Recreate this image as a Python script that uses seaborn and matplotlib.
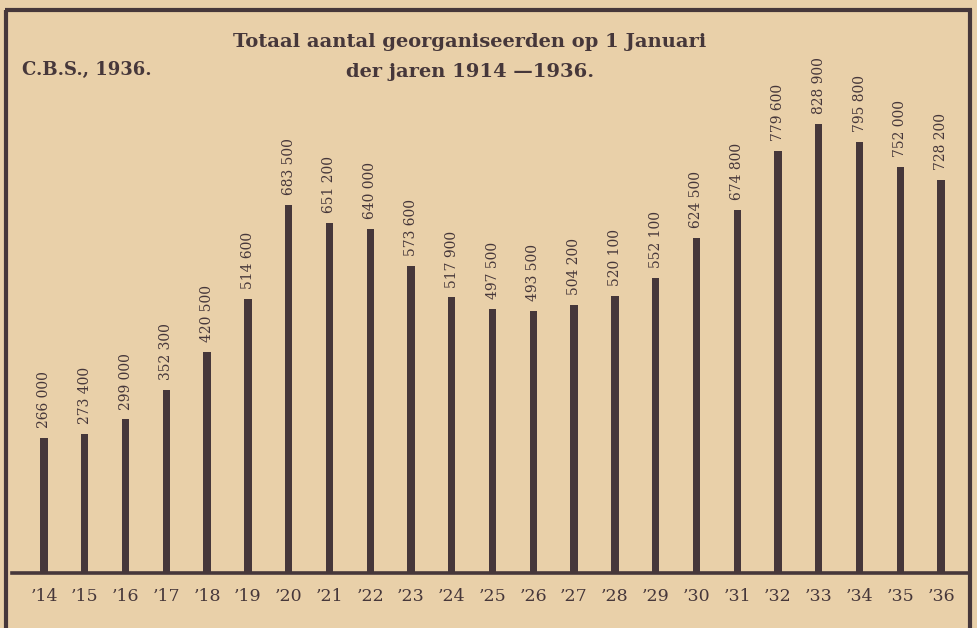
import matplotlib
matplotlib.use("Agg")
import matplotlib.pyplot as plt
from matplotlib.lines import Line2D
import seaborn as sns
import pandas as pd

years = ["’14", "’15", "’16", "’17", "’18", "’19", "’20", "’21", "’22", "’23", "’24", "’25",
         "’26", "’27", "’28", "’29", "’30", "’31", "’32", "’33", "’34", "’35", "’36"]
members = [266000, 273400, 299000, 352300, 420500, 514600, 683500, 651200, 640000, 573600,
           517900, 497500, 493500, 504200, 520100, 552100, 624500, 674800, 779600, 828900,
           795800, 752000, 728200]

title_lines = ["Totaal aantal georganiseerden op 1 Januari", "der jaren 1914 \u20141936."]
source = "C.B.S., 1936."

paper = "#e9d0a9"
ink = "#46373a"

sns.set_theme(style="white")
plt.rcParams["font.family"] = ["DejaVu Serif", "DejaVu Sans"]

df = pd.DataFrame({"year": years, "members": members})

fig = plt.figure(figsize=(9.77, 6.28), dpi=100, facecolor=paper)
W, H = 977, 628
ax = fig.add_axes([12 / W, (H - 573) / H, (968 - 12) / W, (573 - 12) / H])
ax.set_facecolor(paper)

sns.barplot(data=df, x="year", y="members", color=ink, width=0.18, ax=ax,
            saturation=1, edgecolor="none")

ax.set_ylim(24000, 1029000)
ax.set_xlim(-0.785, 22.66)

for s in ["top", "right", "left"]:
    ax.spines[s].set_visible(False)
ax.spines["bottom"].set_color(ink)
ax.spines["bottom"].set_linewidth(2.6)

ax.set_yticks([])
ax.set_xlabel("")
ax.set_ylabel("")
ax.tick_params(axis="x", length=0, pad=11, labelsize=12.5, labelcolor=ink)

for i, v in enumerate(members):
    label = f"{v:,}".replace(",", " ")
    ax.annotate(label, xy=(i, v), xytext=(0, 7), textcoords="offset points",
                rotation=90, ha="center", va="bottom", fontsize=10, color=ink)

# frame
lw = 3.0
fig.add_artist(Line2D([6 / W, 6 / W], [0, 1 - 10 / H], transform=fig.transFigure,
                      color=ink, lw=lw, solid_capstyle="butt"))
fig.add_artist(Line2D([5 / W, 972 / W], [1 - 10 / H, 1 - 10 / H], transform=fig.transFigure,
                      color=ink, lw=lw, solid_capstyle="butt"))
fig.add_artist(Line2D([970 / W, 970 / W], [0, 1 - 9 / H], transform=fig.transFigure,
                      color=ink, lw=lw, solid_capstyle="butt"))

fig.text(470 / W, 1 - 42 / H, title_lines[0], ha="center", va="center",
         fontsize=14, fontweight="bold", color=ink)
fig.text(470 / W, 1 - 72 / H, title_lines[1], ha="center", va="center",
         fontsize=14, fontweight="bold", color=ink)
fig.text(22 / W, 1 - 70 / H, source, ha="left", va="center",
         fontsize=13, fontweight="bold", color=ink)

fig.savefig("out.png", dpi=100, facecolor=paper)
